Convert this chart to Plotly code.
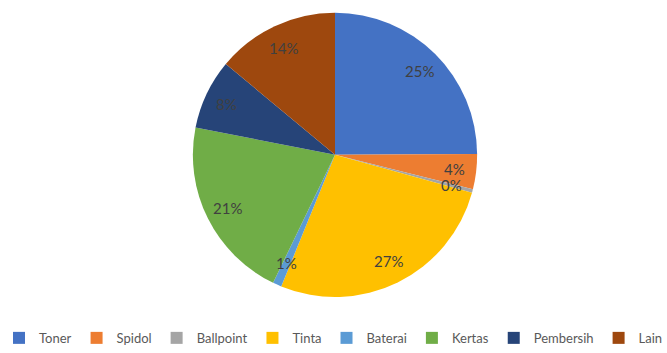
import math
import plotly.graph_objects as go

categories = ["Toner", "Spidol", "Ballpoint", "Tinta", "Baterai", "Kertas", "Pembersih", "Lain"]
values = [25, 4, 0.4, 27, 1, 21, 8, 14]
colors = ["#4472C4", "#ED7D31", "#A5A5A5", "#FFC000", "#5B9BD5", "#70AD47", "#264478", "#9E480E"]

W, H = 667, 353
cx, cy, R = 335, 158, 145  # pie centre / radius in pixels

fig = go.Figure(go.Pie(
    labels=categories,
    values=values,
    marker=dict(colors=colors, line=dict(width=0)),
    sort=False,
    direction="clockwise",
    rotation=0,
    textinfo="none",
    hoverinfo="label+percent",
    domain=dict(x=[(cx - R) / W, (cx + R) / W], y=[(H - cy - R) / H, (H - cy + R) / H]),
))

# data labels, placed along each slice's bisector (like Excel's default)
total = sum(values)
cum = 0
annotations = []
for v in values:
    mid = (cum + v / 2) / total
    cum += v
    ang = 2 * math.pi * mid
    px = cx + 0.83 * R * math.sin(ang)
    py = cy - 0.83 * R * math.cos(ang)
    annotations.append(dict(
        x=px / W, y=1 - py / H, xref="paper", yref="paper",
        text=f"{round(100 * v / total)}%", showarrow=False,
        font=dict(family="Lato", size=15, color="#404040"),
        xanchor="center", yanchor="middle",
    ))

fig.update_layout(
    width=W, height=H,
    margin=dict(l=0, r=0, t=0, b=0),
    paper_bgcolor="white",
    plot_bgcolor="white",
    annotations=annotations,
    showlegend=True,
    legend=dict(
        orientation="h",
        x=0.5, xanchor="center",
        y=-0.02, yanchor="bottom",
        font=dict(family="Lato", size=13, color="#595959"),
        itemwidth=30,
        tracegroupgap=0,
    ),
)

fig.write_html("out.html")
